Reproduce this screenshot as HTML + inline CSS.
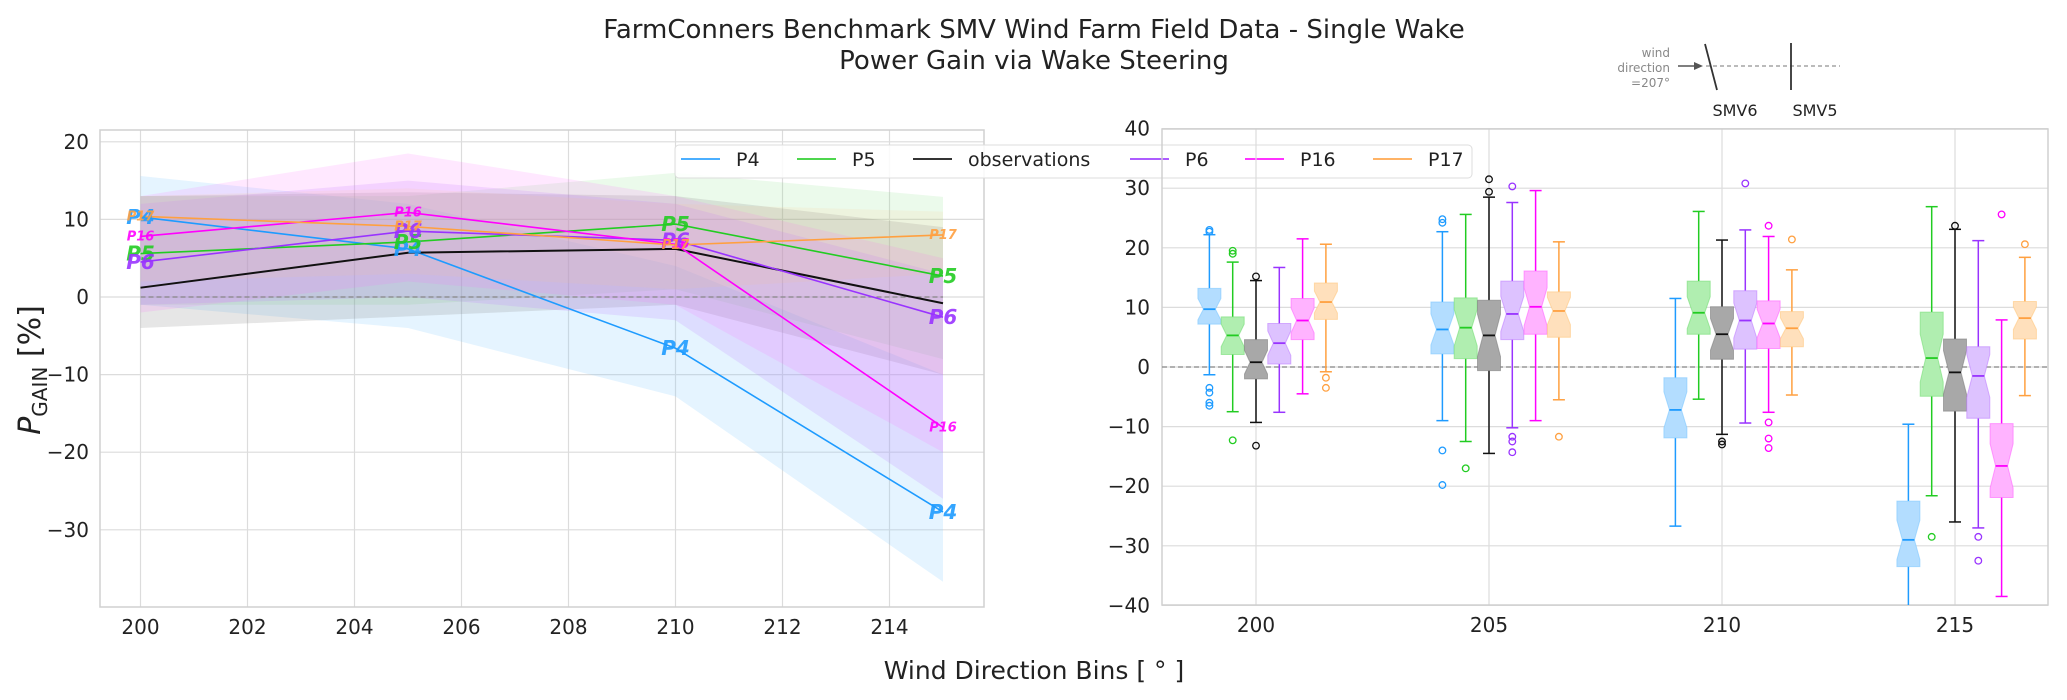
<!DOCTYPE html>
<html><head><meta charset="utf-8"><style>
html,body{margin:0;padding:0;background:#fff;}
svg{display:block;font-family:"DejaVu Sans","Liberation Sans",sans-serif;}
</style></head><body>
<svg id="chart" width="2067" height="700" viewBox="0 0 2067 700">
<text x="1034" y="38" text-anchor="middle" font-size="26" fill="#222">FarmConners Benchmark SMV Wind Farm Field Data - Single Wake</text>
<text x="1034" y="69" text-anchor="middle" font-size="26" fill="#222">Power Gain via Wake Steering</text>
<g id="left"></g>
<g id="right"></g>
<g>
 <text x="1670" y="57" text-anchor="end" font-size="12" fill="#888">wind</text>
 <text x="1670" y="72" text-anchor="end" font-size="12" fill="#888">direction</text>
 <text x="1670" y="87" text-anchor="end" font-size="12" fill="#888">=207°</text>
 <line x1="1678" y1="66" x2="1700" y2="66" stroke="#555" stroke-width="1.5"/>
 <path d="M1694,62 L1703,66 L1694,70 Z" fill="#555"/>
 <line x1="1706" y1="66" x2="1840" y2="66" stroke="#777" stroke-width="1" stroke-dasharray="4,3"/>
 <line x1="1705" y1="44" x2="1717" y2="90" stroke="#333" stroke-width="1.8"/>
 <line x1="1791" y1="43" x2="1791" y2="90" stroke="#333" stroke-width="1.8"/>
 <text x="1735" y="116" text-anchor="middle" font-size="16" fill="#222">SMV6</text>
 <text x="1815" y="116" text-anchor="middle" font-size="16" fill="#222">SMV5</text>
</g>
<text x="1034" y="679" text-anchor="middle" font-size="25" fill="#222">Wind Direction Bins [ ° ]</text>
<text transform="translate(40,370) rotate(-90)" text-anchor="middle" font-size="30" fill="#222"><tspan font-style="italic">P</tspan><tspan font-size="20" dy="7">GAIN</tspan><tspan dy="-7"> [%]</tspan></text>
</svg>
<script>
// ---- left chart data ----
const bins = [200, 205, 210, 215];
const seriesNames = ["P4", "P5", "observations", "P6", "P16", "P17"];
const meanP4 = [10.3, 6.2, -6.6, -27.7];
const meanP5 = [5.6, 7.1, 9.4, 2.7];
const meanObs = [1.2, 5.7, 6.2, -0.8];
const meanP6 = [4.5, 8.5, 7.3, -2.6];
const meanP16 = [7.8, 10.9, 6.8, -16.8];
const meanP17 = [10.4, 9.1, 6.7, 8.0];
const loP4 = [-1, -4, -12.8, -36.7];
const hiP4 = [15.6, 12, 4, -10];
const loP5 = [-1, -1, 1, -8];
const hiP5 = [13, 13, 16, 12.9];
const loObs = [-4, -2.5, -1, -10];
const hiObs = [13, 13.5, 13, 9];
const loP6 = [-1, 0, -3, -26];
const hiP6 = [12, 15, 12, 3];
const loP16 = [-2, 2, -1, -20];
const hiP16 = [13, 18.5, 13, 5];
const loP17 = [2, 3, 1, 3];
const hiP17 = [13, 14, 12, 11];
const leftYTicks = [-30, -20, -10, 0, 10, 20];
const leftXTicks = [200, 202, 204, 206, 208, 210, 212, 214];
// ---- right chart data: [lo, q1, med, q3, hi] per bin ----
const boxP4 = [[-1.3, 7.2, 9.7, 13.2, 22.2], [-9, 2.2, 6.3, 10.9, 22.7], [-26.7, -11.9, -7.2, -1.8, 11.5], [-40, -33.5, -29, -22.5, -9.6]];
const boxP5 = [[-7.5, 2.1, 5.3, 8.4, 17.6], [-12.5, 1.4, 6.6, 11.6, 25.6], [-5.4, 5.5, 9.1, 14.4, 26.1], [-21.6, -4.9, 1.5, 9.2, 26.9]];
const boxObs = [[-9.3, -2, 0.8, 4.6, 14.5], [-14.5, -0.6, 5.3, 11.2, 28.5], [-11.3, 1.3, 5.5, 10.1, 21.3], [-26, -7.4, -0.9, 4.7, 23.1]];
const boxP6 = [[-7.6, 0.5, 4.0, 7.3, 16.7], [-10.2, 4.6, 8.9, 14.4, 27.6], [-9.4, 3.0, 7.8, 12.8, 23.0], [-27, -8.6, -1.5, 3.4, 21.2]];
const boxP16 = [[-4.5, 4.6, 7.8, 11.5, 21.5], [-9, 5.5, 10.1, 16.1, 29.6], [-7.6, 3.1, 7.3, 11.1, 21.9], [-38.5, -21.9, -16.6, -9.5, 7.9]];
const boxP17 = [[-0.8, 8.0, 10.9, 14.1, 20.6], [-5.5, 5.0, 9.4, 12.6, 21.0], [-4.7, 3.4, 6.5, 9.3, 16.3], [-4.8, 4.7, 8.2, 11.0, 18.4]];
const outP4 = [[22.7, 23, -3.5, -4.3, -6, -6.5], [24.2, 24.8, -14, -19.8], [], []];
const outP5 = [[19, 19.5, -12.3], [-17], [], [-28.5]];
const outObs = [[15.2, -13.2], [29.4, 31.5], [-12.5, -13], [23.7]];
const outP6 = [[], [30.3, -11.7, -12.5, -14.3], [30.8], [-28.5, -32.5]];
const outP16 = [[], [], [23.7, -9.3, -12.0, -13.6], [25.6]];
const outP17 = [[-1.8, -3.5], [-11.7], [21.4], [20.6]];
const rightYTicks = [-40, -30, -20, -10, 0, 10, 20, 30, 40];
const rightXTicks = [200, 205, 210, 215];

const colors = ["#1e9bff", "#22cc22", "#111111", "#9933ff", "#ff00ff", "#ffa040"];
const fills = ["#7fc8ff", "#77dd77", "#808080", "#c080ff", "#ff66ff", "#ffc880"];
const boxFills = ["#b3ddff", "#b0eeb0", "#a8a8a8", "#ddc2ff", "#ffb3ff", "#ffe0bc"];
const NS = "http://www.w3.org/2000/svg";
function mk(parent, tag, attrs) {
  const e = document.createElementNS(NS, tag);
  for (const k in attrs) e.setAttribute(k, attrs[k]);
  parent.appendChild(e);
  return e;
}
// ---- left ----
const L = document.getElementById("left");
const xL = v => 140.5 + (v - 200) * 53.5;
const yL = v => 297 - v * 7.76;
const LX0 = 100, LX1 = 984, LY0 = 130, LY1 = 607;
leftXTicks.forEach(t => {
  const g = mk(L, "line", {x1: xL(t), x2: xL(t), y1: LY0, y2: LY1, stroke: "#dcdcdc", "stroke-width": 1.2});
  
  
  const tx = mk(L, "text", {x: xL(t), y: 634, "text-anchor": "middle", "font-size": 20, fill: "#222"});
  tx.textContent = t;
  
  
});
leftYTicks.forEach(t => {
  const g = mk(L, "line", {x1: LX0, x2: LX1, y1: yL(t), y2: yL(t), stroke: "#dcdcdc", "stroke-width": 1.2});
  
  
  const tx = mk(L, "text", {x: 89, y: yL(t) + 7, "text-anchor": "end", "font-size": 20, fill: "#222"});
  tx.textContent = String(t).replace("-", "\u2212");
  
  
});
const fr = mk(L, "rect", {x: LX0, y: LY0, width: LX1 - LX0, height: LY1 - LY0, fill: "none", stroke: "#d0d0d0", "stroke-width": 1.5});


const means = [meanP4, meanP5, meanObs, meanP6, meanP16, meanP17];
const los = [loP4, loP5, loObs, loP6, loP16, loP17];
const his = [hiP4, hiP5, hiObs, hiP6, hiP16, hiP17];
const bandOp = [0.2, 0.15, 0.2, 0.2, 0.15, 0.12];
for (let s = 0; s < 6; s++) {
  let d = "";
  bins.forEach((b, i) => { d += (i ? "L" : "M") + xL(b) + "," + yL(his[s][i]); });
  for (let i = bins.length - 1; i >= 0; i--) d += "L" + xL(bins[i]) + "," + yL(los[s][i]);
  const p = mk(L, "path", {d: d + "Z", fill: fills[s], "fill-opacity": bandOp[s], stroke: "none"});
  
  
}
const z = mk(L, "line", {x1: xL(200), x2: xL(215), y1: yL(0), y2: yL(0), stroke: "#888", "stroke-width": 1.3, "stroke-dasharray": "5,3"});


for (let s = 0; s < 6; s++) {
  const pts = bins.map((b, i) => xL(b) + "," + yL(means[s][i])).join(" ");
  const pl = mk(L, "polyline", {points: pts, fill: "none", stroke: colors[s], "stroke-width": s === 2 ? 2 : 1.6});
  
  
}
for (let s = 0; s < 6; s++) {
  if (s === 2) continue;
  const small = (s === 4 || s === 5);
  bins.forEach((b, i) => {
    const t = mk(L, "text", {x: xL(b), y: yL(means[s][i]) + (small ? 4 : 7), "text-anchor": "middle", "font-size": small ? 13 : 20, "font-style": "italic", "font-weight": "bold", fill: colors[s], "fill-opacity": 0.9});
    t.textContent = seriesNames[s];
    
    
  });
}
// legend
const lg = mk(L, "g", {});


mk(lg, "rect", {x: 675, y: 145, width: 797, height: 33, rx: 4, fill: "#fff", "fill-opacity": 0.85, stroke: "#ddd"});
const legLineX = [681, 797, 913, 1130, 1245, 1373];
for (let s = 0; s < 6; s++) {
  const e = mk(lg, "g", {});
  
  
  mk(e, "line", {x1: legLineX[s], x2: legLineX[s] + 39, y1: 159, y2: 159, stroke: colors[s], "stroke-width": 2, "stroke-opacity": s === 2 ? 0.85 : 0.8});
  const t = mk(e, "text", {x: legLineX[s] + 55, y: 166, "font-size": 19, fill: "#222"});
  t.textContent = seriesNames[s];
}
// ---- right ----
const R = document.getElementById("right");
const xR = v => 1256 + (v - 200) * 46.6;
const yR = v => 367 - v * 5.96;
const RX0 = 1162, RX1 = 2048, RY0 = 129, RY1 = 605;
rightXTicks.forEach(t => {
  const g = mk(R, "line", {x1: xR(t), x2: xR(t), y1: RY0, y2: RY1, stroke: "#dcdcdc", "stroke-width": 1.2});
  
  
  const tx = mk(R, "text", {x: xR(t), y: 632, "text-anchor": "middle", "font-size": 20, fill: "#222"});
  tx.textContent = t;
  
  
});
rightYTicks.forEach(t => {
  const g = mk(R, "line", {x1: RX0, x2: RX1, y1: yR(t), y2: yR(t), stroke: "#dcdcdc", "stroke-width": 1.2});
  
  
  const tx = mk(R, "text", {x: 1150, y: yR(t) + 7, "text-anchor": "end", "font-size": 20, fill: "#222"});
  tx.textContent = String(t).replace("-", "\u2212");
  
  
});
const fr2 = mk(R, "rect", {x: RX0, y: RY0, width: RX1 - RX0, height: RY1 - RY0, fill: "none", stroke: "#d0d0d0", "stroke-width": 1.5});


const z2 = mk(R, "line", {x1: RX0, x2: RX1, y1: yR(0), y2: yR(0), stroke: "#888", "stroke-width": 1.3, "stroke-dasharray": "5,3"});


const boxes = [boxP4, boxP5, boxObs, boxP6, boxP16, boxP17];
const outs = [outP4, outP5, outObs, outP6, outP16, outP17];
const cl = (v) => Math.max(yR(v), RY0) > RY1 ? RY1 : Math.max(yR(v), RY0);
for (let s = 0; s < 6; s++) {
  bins.forEach((b, i) => {
    const [lo, q1, med, q3, hi] = boxes[s][i];
    const cx = xR(b + (s - 2) * 0.5);
    const hw = 11.5, nw = 6;
    const g = mk(R, "g", {});
    
    
    const nh = Math.min(0.3 * (q3 - q1), 4);
    mk(g, "line", {x1: cx, x2: cx, y1: cl(hi), y2: yR(q3), stroke: colors[s], "stroke-width": 1.5});
    mk(g, "line", {x1: cx, x2: cx, y1: yR(q1), y2: cl(lo), stroke: colors[s], "stroke-width": 1.5});
    if (yR(hi) >= RY0) mk(g, "line", {x1: cx - 6, x2: cx + 6, y1: yR(hi), y2: yR(hi), stroke: colors[s], "stroke-width": 1.5});
    if (yR(lo) < RY1) mk(g, "line", {x1: cx - 6, x2: cx + 6, y1: yR(lo), y2: yR(lo), stroke: colors[s], "stroke-width": 1.5});
    const d = `M${cx - hw},${cl(q1)} L${cx - hw},${yR(med - nh)} L${cx - nw},${yR(med)} L${cx - hw},${yR(med + nh)} L${cx - hw},${yR(q3)} L${cx + hw},${yR(q3)} L${cx + hw},${yR(med + nh)} L${cx + nw},${yR(med)} L${cx + hw},${yR(med - nh)} L${cx + hw},${cl(q1)} Z`;
    mk(g, "path", {d: d, fill: boxFills[s], stroke: fills[s], "stroke-width": 1, "stroke-opacity": 0.6});
    mk(g, "line", {x1: cx - nw, x2: cx + nw, y1: yR(med), y2: yR(med), stroke: colors[s], "stroke-width": 1.8});
    outs[s][i].forEach(o => {
      mk(g, "circle", {cx: cx, cy: yR(o), r: 3.3, fill: "none", stroke: colors[s], "stroke-width": 1.3});
    });
  });
}
</script>
</body></html>
